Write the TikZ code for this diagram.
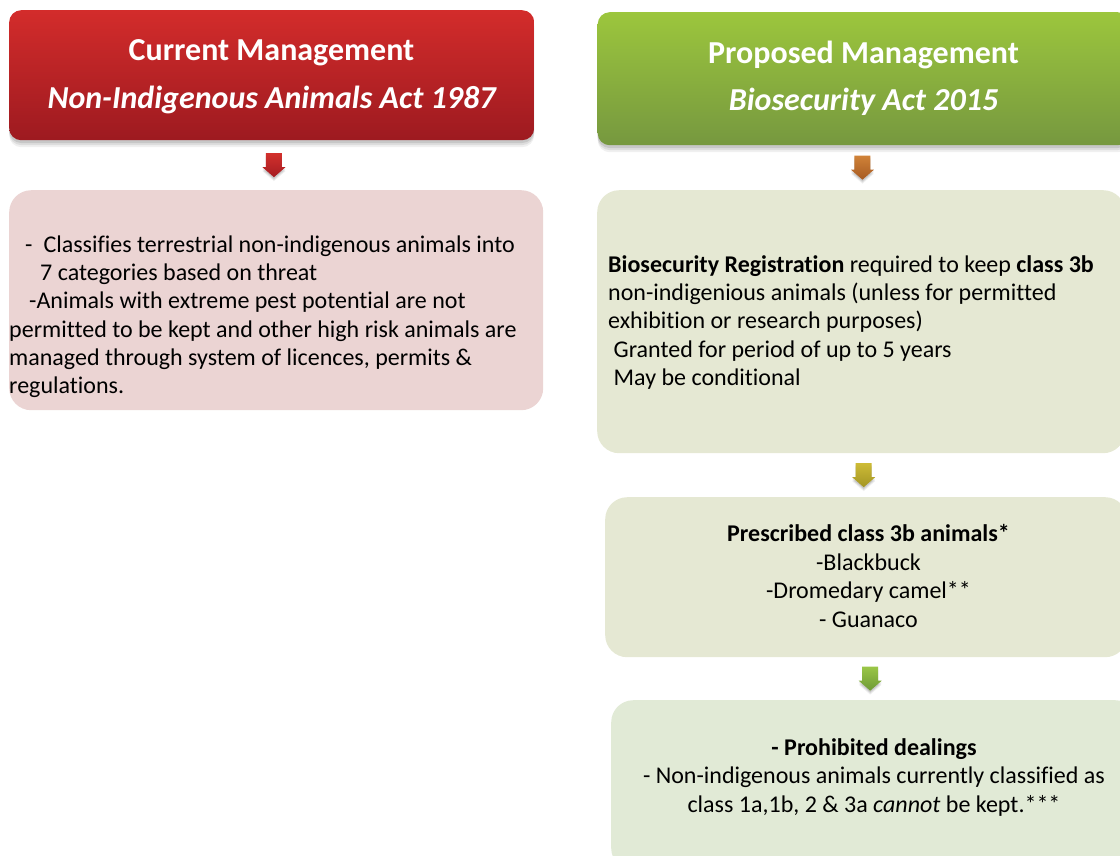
\documentclass[tikz,border=0pt]{standalone}
\usepackage{fontspec}
\setmainfont{Carlito}[Ligatures={NoCommon}]
\usetikzlibrary{calc,shadows}

\definecolor{redtop}{HTML}{D32C2B}
\definecolor{redbot}{HTML}{9D1A20}
\definecolor{greentop}{HTML}{9CC63D}
\definecolor{greenbot}{HTML}{76983F}
\definecolor{pinkfill}{HTML}{EBD4D3}
\definecolor{sagefill}{HTML}{E5E8D3}
\definecolor{mintfill}{HTML}{E1EAD6}
% arrow colours, top/bottom
\definecolor{arrredtop}{HTML}{D2302C}
\definecolor{arrredbot}{HTML}{A51C22}
\definecolor{arrorgtop}{HTML}{D08238}
\definecolor{arrorgbot}{HTML}{A65A22}
\definecolor{arryeltop}{HTML}{CDBB36}
\definecolor{arryelbot}{HTML}{A39524}
\definecolor{arrgrntop}{HTML}{9AC647}
\definecolor{arrgrnbot}{HTML}{6E9A35}

% soft shadow: a few stacked translucent copies
\tikzset{softshadow/.style={
    general shadow={shadow xshift=0pt,shadow yshift=-#1*0.4pt,fill=black,opacity=.10},
    general shadow={shadow xshift=0pt,shadow yshift=-#1*0.7pt,fill=black,opacity=.08},
    general shadow={shadow xshift=0pt,shadow yshift=-#1*1pt,fill=black,opacity=.06}}}

% small block arrow pointing down, centred on a coordinate
\newcommand\blockarrow[3]{%
  \shade[shift={(#1)},top color=#2,bottom color=#3,softshadow=4]
    (-8,-12) -- (8,-12) -- (8,2) -- (11.5,2) -- (0,12) -- (-11.5,2) -- (-8,2) -- cycle;}

\begin{document}
\begin{tikzpicture}[x=1pt,y=-1pt,
    headbox/.style={anchor=north west,inner sep=0pt,rounded corners=12pt,softshadow=7},
    panel/.style={anchor=north west,inner sep=0pt,rounded corners=22pt},
    headtext/.style={anchor=base,inner sep=0pt,text=white,
      font=\fontsize{32}{38}\selectfont\bfseries},
    txt/.style={inner sep=0pt,font=\fontsize{24}{29}\selectfont}]
  \useasboundingbox (0,0) rectangle (1120,855);

  % left column
  \node[headbox,top color=redtop,bottom color=redbot,
    minimum width=525pt,minimum height=130pt] (curhead) at (9,10) {};
  \node[headtext] (curtitle) at (271.5,60) {Current Management};
  \node[headtext,font=\fontsize{32}{38}\selectfont\bfseries\itshape]
    (curact) at (271.5,108) {Non-Indigenous Animals Act 1987};
  \node[panel,fill=pinkfill,minimum width=534pt,minimum height=220pt] (curpanel) at (9,190) {};
  \foreach \x/\y/\t [count=\i] in {
      25/252/{-\hspace{11pt}Classifies terrestrial non-indigenous animals into},
      40/280/{7 categories based on threat},
      29/308/{-Animals with extreme pest potential are not},
      9/337/{permitted to be kept and other high risk animals are},
      9/365/{managed through system of licences, permits \&},
      9/393/{regulations.}}
    {\node[txt,anchor=base west] (cur-\i) at (\x,\y) {\t};}

  % right column
  \node[headbox,top color=greentop,bottom color=greenbot,
    minimum width=532pt,minimum height=133pt] (prophead) at (597.5,12) {};
  \node[headtext] (proptitle) at (863.5,63) {Proposed Management};
  \node[headtext,font=\fontsize{32}{38}\selectfont\bfseries\itshape]
    (propact) at (863.5,110) {Biosecurity Act 2015};

  \node[panel,fill=sagefill,minimum width=528pt,minimum height=263pt] (regpanel) at (597,190) {};
  \foreach \x/\y/\t [count=\i] in {
      608/272/{\textbf{Biosecurity Registration} required to keep \textbf{class 3b}},
      608/300.3/{non-indigenious animals (unless for permitted},
      608/328.6/{exhibition or research purposes)},
      613.5/357/{Granted for period of up to 5 years},
      613.5/385.3/{May be conditional}}
    {\node[txt,anchor=base west] (reg-\i) at (\x,\y) {\t};}

  \node[panel,fill=sagefill,minimum width=522pt,minimum height=160pt] (classpanel) at (605,497) {};
  \foreach \y/\t [count=\i] in {
      541/{\textbf{Prescribed class 3b animals*}},
      570/{-Blackbuck},
      598.5/{-Dromedary camel**},
      627/{- Guanaco}}
    {\node[txt,anchor=base] (class-\i) at (868.5,\y) {\t};}

  \node[panel,fill=mintfill,minimum width=526pt,minimum height=170pt] (banpanel) at (611,700) {};
  \foreach \y/\t [count=\i] in {
      755/{\textbf{- Prohibited dealings}},
      783.5/{- Non-indigenous animals currently classified as},
      812/{class 1a,1b, 2 \& 3a \textit{cannot} be kept.***}}
    {\node[txt,anchor=base] (ban-\i) at (874,\y) {\t};}

  % arrows between the boxes
  \coordinate (a1) at ($(curhead.south)!0.5!(curpanel.north)$);
  \coordinate (a2) at ($(prophead.south)!0.5!(regpanel.north)$);
  \coordinate (a3) at ($(regpanel.south)!0.5!(classpanel.north)$);
  \coordinate (a4) at ($(classpanel.south)!0.5!(banpanel.north)$);
  \blockarrow{a1}{arrredtop}{arrredbot}
  \blockarrow{a2}{arrorgtop}{arrorgbot}
  \blockarrow{a3}{arryeltop}{arryelbot}
  \blockarrow{a4}{arrgrntop}{arrgrnbot}
\end{tikzpicture}
\end{document}
